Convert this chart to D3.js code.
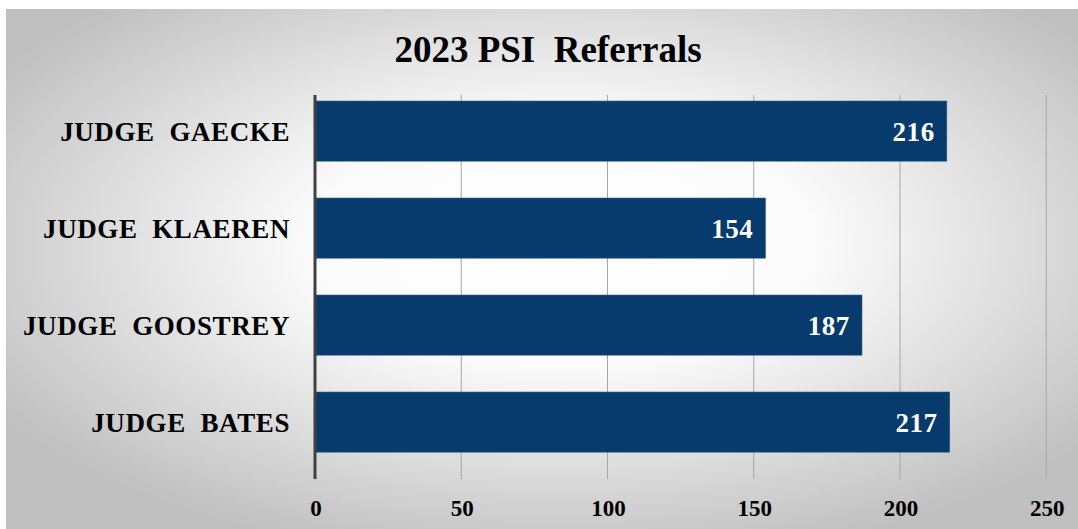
<!DOCTYPE html>
<html>
<head>
<meta charset="utf-8">
<script src="https://d3js.org/d3.v7.min.js"></script>
<style>
body { margin: 0; background: #fff; }
svg { display: block; }
text { font-family: "Liberation Serif", "Times New Roman", serif; font-weight: bold; }
</style>
</head>
<body>
<svg id="chart"></svg>
<script>
// data
var judges = ["JUDGE  GAECKE", "JUDGE  KLAEREN", "JUDGE  GOOSTREY", "JUDGE  BATES"];
var referrals = [216, 154, 187, 217];
var ticks = [0, 50, 100, 150, 200, 250];

var W = 1078, H = 529;
var svg = d3.select("#chart").attr("width", W).attr("height", H);

// background gradient
var defs = svg.append("defs");
var grad = defs.append("radialGradient")
    .attr("id", "bg")
    .attr("cx", "0.52").attr("cy", "0.45")
    .attr("r", "0.62");
grad.append("stop").attr("offset", "0").attr("stop-color", "#ffffff");
grad.append("stop").attr("offset", "0.38").attr("stop-color", "#fbfbfb");
grad.append("stop").attr("offset", "1").attr("stop-color", "#c0c0c0");

svg.append("rect")
    .attr("x", 6).attr("y", 9)
    .attr("width", W - 6).attr("height", H - 9)
    .attr("fill", "url(#bg)");

var x0 = 315, plotTop = 95, plotBottom = 479;

var x = d3.scaleLinear().domain([0, 200]).range([x0, 900]);
var y = d3.scaleBand().domain(judges).range([82.6, 470.6])
    .paddingInner(0.38).paddingOuter(0.19);

// gridlines
svg.append("g").selectAll("line")
    .data(ticks.slice(1))
    .enter().append("line")
    .attr("x1", function(d) { return x(d); })
    .attr("x2", function(d) { return x(d); })
    .attr("y1", plotTop).attr("y2", plotBottom)
    .attr("stroke", "#a6a6a6")
    .attr("stroke-width", 1);

// bars
svg.append("g").selectAll("rect")
    .data(referrals)
    .enter().append("rect")
    .attr("x", x(0))
    .attr("y", function(d, i) { return y(judges[i]); })
    .attr("width", function(d) { return x(d) - x(0); })
    .attr("height", y.bandwidth())
    .attr("fill", "#073a6d")
    .attr("stroke", "#2c5985")
    .attr("stroke-width", 0.6);

// value labels
svg.append("g").selectAll("text")
    .data(referrals)
    .enter().append("text")
    .attr("x", function(d) { return x(d) - 12; })
    .attr("y", function(d, i) { return y(judges[i]) + y.bandwidth() / 2; })
    .attr("dy", "0.35em")
    .attr("text-anchor", "end")
    .attr("fill", "#ffffff")
    .style("font-size", "27px")
    .style("letter-spacing", "0.6px")
    .text(function(d) { return d; });

// zero axis line
svg.append("line")
    .attr("x1", x(0)).attr("x2", x(0))
    .attr("y1", plotTop).attr("y2", plotBottom)
    .attr("stroke", "#404040")
    .attr("stroke-width", 3);

// category labels
svg.append("g").selectAll("text")
    .data(judges)
    .enter().append("text")
    .attr("x", 290)
    .attr("y", function(d) { return y(d) + y.bandwidth() / 2; })
    .attr("dy", "0.35em")
    .attr("text-anchor", "end")
    .attr("fill", "#000")
    .style("font-size", "27px")
    .style("letter-spacing", "0.6px")
    .style("white-space", "pre")
    .text(function(d) { return d; });

// x tick labels
svg.append("g").selectAll("text")
    .data(ticks)
    .enter().append("text")
    .attr("x", function(d) { return x(d) + 1; })
    .attr("y", 516)
    .attr("text-anchor", "middle")
    .attr("fill", "#000")
    .style("font-size", "23px")
    .text(function(d) { return d; });

// title
svg.append("text")
    .attr("x", 548).attr("y", 62)
    .attr("text-anchor", "middle")
    .attr("fill", "#000")
    .style("font-size", "37px")
    .style("white-space", "pre")
    .text("2023 PSI  Referrals");
</script>
</body>
</html>
